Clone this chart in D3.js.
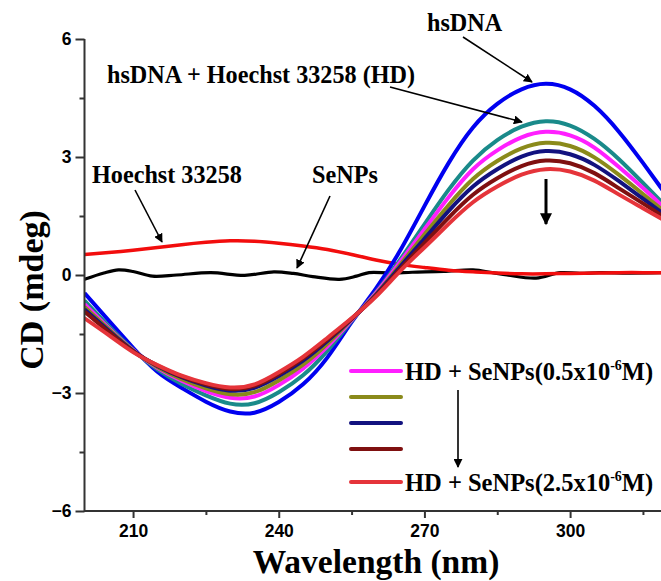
<!DOCTYPE html>
<html>
<head>
<meta charset="utf-8">
<script src="https://cdn.jsdelivr.net/npm/d3@7"></script>
<style>
  html, body { margin: 0; padding: 0; background: #fff; }
  svg { display: block; }
</style>
</head>
<body>
<svg id="chart" width="661" height="581"></svg>
<script>
// ---------------- data ----------------
const wavelengths = [200,205,210,215,220,225,230,235,240,245,250,255,260,265,270,275,280,285,290,295,300,305,310,315,320];

const hsDNA      = [-0.46,-1.16,-1.85,-2.46,-2.87,-3.22,-3.47,-3.50,-3.23,-2.78,-2.10,-1.20,-0.35,0.62,1.75,2.85,3.75,4.35,4.72,4.86,4.72,4.30,3.65,2.85,2.00];
const hsDNA_HD   = [-0.65,-1.30,-1.90,-2.40,-2.77,-3.06,-3.27,-3.26,-2.98,-2.55,-1.93,-1.17,-0.44,0.39,1.29,2.17,2.91,3.43,3.77,3.91,3.80,3.46,2.95,2.34,1.71];
const HD_Se05    = [-0.74,-1.35,-1.91,-2.36,-2.69,-2.95,-3.12,-3.09,-2.80,-2.38,-1.82,-1.15,-0.46,0.33,1.16,1.98,2.69,3.17,3.50,3.64,3.55,3.24,2.75,2.21,1.64];
const HD_Se10    = [-0.81,-1.38,-1.92,-2.34,-2.65,-2.88,-3.03,-2.98,-2.68,-2.28,-1.75,-1.13,-0.49,0.26,1.03,1.78,2.44,2.90,3.22,3.36,3.28,2.99,2.55,2.06,1.55];
const HD_Se15    = [-0.87,-1.42,-1.93,-2.31,-2.60,-2.81,-2.94,-2.87,-2.57,-2.18,-1.68,-1.12,-0.51,0.21,0.92,1.63,2.25,2.69,3.01,3.15,3.07,2.80,2.39,1.94,1.49];
const HD_Se20    = [-0.93,-1.45,-1.94,-2.30,-2.58,-2.78,-2.90,-2.82,-2.52,-2.12,-1.64,-1.11,-0.53,0.15,0.81,1.46,2.04,2.46,2.77,2.91,2.84,2.59,2.21,1.82,1.42];
const HD_Se25    = [-1.10,-1.53,-1.96,-2.29,-2.56,-2.75,-2.86,-2.78,-2.47,-2.08,-1.60,-1.10,-0.55,0.10,0.70,1.30,1.85,2.25,2.55,2.69,2.63,2.40,2.05,1.70,1.35];

const hoechst    = [0.52,0.57,0.63,0.70,0.77,0.83,0.87,0.86,0.81,0.74,0.65,0.52,0.38,0.27,0.19,0.12,0.08,0.05,0.03,0.03,0.04,0.05,0.06,0.06,0.06];

const seNPsWavelengths = [200,204,207,210,214,219,226,233,239,243,247,252.5,256,258.6,263,267.5,274,280,284,287,293,298,302,306,312,320];
const seNPs            = [-0.11,0.05,0.13,0.09,-0.03,0.00,0.06,-0.01,0.08,0.04,-0.04,-0.11,-0.03,0.06,0.05,0.07,0.09,0.13,0.06,0.00,-0.08,0.06,0.04,0.06,0.05,0.06];

const xTicks = [210, 240, 270, 300];
const xMinorTicks = [225, 255, 285, 315];
const yTicks = [-6, -3, 0, 3, 6];
const yMinorTicks = [-4.5, -1.5, 1.5, 4.5];

const spectraColors = ["#0000f0", "#1a8a8a", "#ff1fff", "#8a8a1a", "#12127f", "#7f1010", "#e5343a"];
const legendColors = ["#ff1fff", "#8a8a1a", "#12127f", "#7f1010", "#e5343a"];
const legendConc = ["0.5", "", "", "", "2.5"];

// ---------------- setup ----------------
const svg = d3.select("#chart");
const W = 661, H = 581;
const x = d3.scaleLinear().domain([200, 320]).range([84.5, 84.5 + 120 * 4.856]);
const y = d3.scaleLinear().domain([-6, 6]).range([511, 39]);

const serif = "'Liberation Serif','Times New Roman',serif";
const sans = "'Liberation Sans',Arial,sans-serif";

const defs = svg.append("defs");
defs.append("clipPath").attr("id", "plotClip")
  .append("rect").attr("x", x(200)).attr("y", 0).attr("width", W - x(200)).attr("height", y(-6));
defs.append("marker").attr("id", "ah").attr("viewBox", "0 0 10 10")
  .attr("refX", 9).attr("refY", 5).attr("markerWidth", 9).attr("markerHeight", 9)
  .attr("markerUnits", "userSpaceOnUse").attr("orient", "auto")
  .append("path").attr("d", "M0,0 L10,5 L0,10 z").attr("fill", "#000");
defs.append("marker").attr("id", "ahBig").attr("viewBox", "0 0 10 10")
  .attr("refX", 9).attr("refY", 5).attr("markerWidth", 16).attr("markerHeight", 12)
  .attr("markerUnits", "userSpaceOnUse").attr("orient", "auto")
  .append("path").attr("d", "M0,0 L10,5 L0,10 z").attr("fill", "#000");

// ---------------- lines ----------------
const plot = svg.append("g").attr("clip-path", "url(#plotClip)");
const line = d3.line().x(d => x(d[0])).y(d => y(d[1])).curve(d3.curveNatural);
const lineWavy = d3.line().x(d => x(d[0])).y(d => y(d[1])).curve(d3.curveCatmullRom);

plot.append("path").datum(d3.zip(seNPsWavelengths, seNPs))
  .attr("d", lineWavy).attr("fill", "none").attr("stroke", "#000").attr("stroke-width", 3.2);
plot.append("path").datum(d3.zip(wavelengths, hoechst))
  .attr("d", line).attr("fill", "none").attr("stroke", "#f20d0d").attr("stroke-width", 3.5);

const spectra = [hsDNA, hsDNA_HD, HD_Se05, HD_Se10, HD_Se15, HD_Se20, HD_Se25];
spectra.forEach((s, i) => {
  plot.append("path").datum(d3.zip(wavelengths, s))
    .attr("d", line).attr("fill", "none")
    .attr("stroke", spectraColors[i]).attr("stroke-width", 4);
});

// ---------------- axes ----------------
const axisColor = "#333";
const gx = svg.append("g").attr("transform", `translate(0,${y(-6)})`);
gx.call(d3.axisBottom(x).tickValues(xTicks).tickSize(7).tickPadding(7).tickFormat(d3.format("d")));
gx.append("g").call(d3.axisBottom(x).tickValues(xMinorTicks).tickSize(4).tickFormat(""));
gx.selectAll(".domain").remove();
gx.append("line").attr("x1", x(200)).attr("x2", W).attr("y1", 0).attr("y2", 0)
  .attr("stroke", axisColor).attr("stroke-width", 2);

const gy = svg.append("g").attr("transform", `translate(${x(200)},0)`);
gy.call(d3.axisLeft(y).tickValues(yTicks).tickSize(9).tickPadding(4).tickFormat(d3.format("d")));
gy.append("g").call(d3.axisLeft(y).tickValues(yMinorTicks).tickSize(5).tickFormat(""));
gy.selectAll(".domain").remove();
gy.append("line").attr("x1", 0).attr("x2", 0).attr("y1", y(6)).attr("y2", y(-6) + 1)
  .attr("stroke", axisColor).attr("stroke-width", 2);

svg.selectAll(".tick line").attr("stroke", axisColor).attr("stroke-width", 2);
svg.selectAll(".tick text").attr("fill", "#000")
  .style("font-family", sans).style("font-weight", "bold").style("font-size", "17.5px");

// axis titles
svg.append("text").attr("x", 376).attr("y", 573).attr("text-anchor", "middle")
  .style("font-family", serif).style("font-weight", "bold").style("font-size", "33.5px")
  .text("Wavelength (nm)");
svg.append("text").attr("transform", "translate(43,290) rotate(-90)").attr("text-anchor", "middle")
  .style("font-family", serif).style("font-weight", "bold").style("font-size", "34px")
  .text("CD (mdeg)");

// ---------------- annotations ----------------
const ann = svg.append("g").style("font-family", serif).style("font-weight", "bold").style("font-size", "24.2px");
ann.append("text").attr("x", 427).attr("y", 31).text("hsDNA");
ann.append("text").attr("x", 107).attr("y", 83).text("hsDNA + Hoechst 33258 (HD)");
ann.append("text").attr("x", 92).attr("y", 183).text("Hoechst 33258");
ann.append("text").attr("x", 312).attr("y", 183).text("SeNPs");

const arrows = [
  [463, 37, 532, 82],
  [390, 87, 522, 122],
  [135, 190, 162, 242],
  [330, 196, 297, 268]
];
arrows.forEach(a => {
  svg.append("line").attr("x1", a[0]).attr("y1", a[1]).attr("x2", a[2]).attr("y2", a[3])
    .attr("stroke", "#000").attr("stroke-width", 1.6).attr("marker-end", "url(#ah)");
});
// big down arrow
svg.append("line").attr("x1", 546).attr("y1", 179).attr("x2", 546).attr("y2", 224)
  .attr("stroke", "#000").attr("stroke-width", 3).attr("marker-end", "url(#ahBig)");

// ---------------- legend ----------------
const legY = [371, 397, 423, 449, 482];
const leg = svg.append("g");
legendColors.forEach((c, i) => {
  leg.append("line").attr("x1", 351).attr("x2", 401).attr("y1", legY[i]).attr("y2", legY[i])
    .attr("stroke", c).attr("stroke-width", 4).attr("stroke-linecap", "round");
  if (legendConc[i]) {
    const t = leg.append("text").attr("x", 405).attr("y", legY[i] + 9)
      .style("font-family", serif).style("font-weight", "bold").style("font-size", "24.5px");
    t.append("tspan").text("HD + SeNPs(" + legendConc[i] + "x10");
    t.append("tspan").attr("dy", -10).style("font-size", "14px").text("-6");
    t.append("tspan").attr("dy", 10).text("M)");
  }
});
svg.append("line").attr("x1", 458).attr("y1", 390).attr("x2", 458).attr("y2", 467)
  .attr("stroke", "#000").attr("stroke-width", 1.6).attr("marker-end", "url(#ah)");
</script>
</body>
</html>
